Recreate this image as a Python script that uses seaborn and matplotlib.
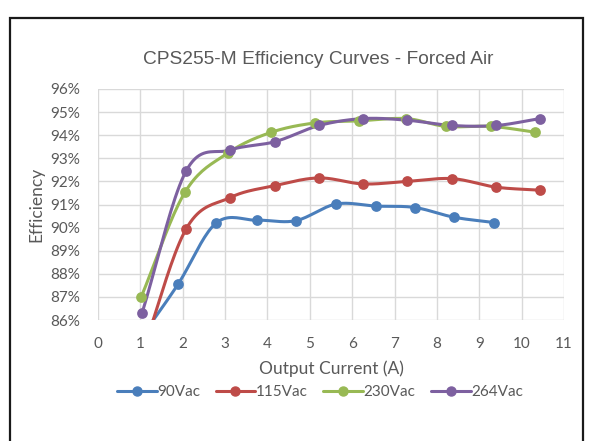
import numpy as np
import pandas as pd
import matplotlib
matplotlib.use("Agg")
import matplotlib.pyplot as plt
import seaborn as sns
from matplotlib.lines import Line2D
from matplotlib.patches import Rectangle

# valori (corrente in A, efficienza in %)
series_names = ["90Vac", "115Vac", "230Vac", "264Vac"]
cur_90 = [1.0, 1.89, 2.79, 3.75, 4.67, 5.62, 6.56, 7.48, 8.40, 9.35]
eff_90 = [85.2, 87.55, 90.2, 90.32, 90.3, 91.02, 90.93, 90.87, 90.45, 90.22]
cur_115 = [1.05, 2.08, 3.12, 4.18, 5.22, 6.26, 7.29, 8.36, 9.40, 10.43]
eff_115 = [84.6, 89.94, 91.3, 91.82, 92.15, 91.89, 92.0, 92.12, 91.75, 91.62]
cur_230 = [1.02, 2.05, 3.07, 4.08, 5.12, 6.16, 7.27, 8.22, 9.28, 10.32]
eff_230 = [87.0, 91.52, 93.23, 94.12, 94.53, 94.62, 94.72, 94.38, 94.38, 94.13]
cur_264 = [1.04, 2.08, 3.12, 4.18, 5.22, 6.26, 7.29, 8.36, 9.40, 10.43]
eff_264 = [86.3, 92.45, 93.36, 93.72, 94.42, 94.72, 94.65, 94.42, 94.42, 94.72]
colori = ["#4a7ebb", "#be4b48", "#98b954", "#7d60a0"]

x_ticks = list(range(0, 12))
y_ticks = list(range(86, 97))


def smooth(x, y, n=20):
    # curva tipo "linea smussata" di Excel (Catmull-Rom) solo per il disegno
    x = np.asarray(x, float)
    y = np.asarray(y, float)
    px = np.concatenate([[2 * x[0] - x[1]], x, [2 * x[-1] - x[-2]]])
    py = np.concatenate([[2 * y[0] - y[1]], y, [2 * y[-1] - y[-2]]])
    xs, ys = [], []
    t = np.linspace(0, 1, n, endpoint=False)
    for i in range(1, len(px) - 2):
        for p, out in ((px, xs), (py, ys)):
            p0, p1, p2, p3 = p[i - 1], p[i], p[i + 1], p[i + 2]
            out.extend(0.5 * (2 * p1 + (-p0 + p2) * t
                              + (2 * p0 - 5 * p1 + 4 * p2 - p3) * t ** 2
                              + (-p0 + 3 * p1 - 3 * p2 + p3) * t ** 3))
    xs.append(x[-1])
    ys.append(y[-1])
    return np.array(xs), np.array(ys)


sns.set_theme(style="white")
plt.rcParams["font.family"] = ["Lato", "DejaVu Sans"]
testo = "#595959"

fig = plt.figure(figsize=(5.9, 4.41), dpi=100)
ax = fig.add_axes([98 / 590, 1 - 320 / 441, 466 / 590, 231 / 441])

dati = [(cur_90, eff_90), (cur_115, eff_115), (cur_230, eff_230), (cur_264, eff_264)]
handles = []
for nome, (xc, yc), col in zip(series_names, dati, colori):
    sx, sy = smooth(xc, yc)
    curva = pd.DataFrame({"I": sx, "eff": sy / 100})
    punti = pd.DataFrame({"I": xc, "eff": np.array(yc) / 100})
    sns.lineplot(data=curva, x="I", y="eff", ax=ax, color=col, lw=2.2,
                 sort=False, estimator=None)
    sns.scatterplot(data=punti, x="I", y="eff", ax=ax, color=col, s=60,
                    edgecolor=col, linewidth=0, zorder=3)
    handles.append(Line2D([0], [0], color=col, lw=2.2, marker="o",
                          markersize=6.5, label=nome))

ax.set_xlim(0, 11)
ax.set_ylim(0.86, 0.96)
ax.set_xticks(x_ticks)
ax.set_yticks([v / 100 for v in y_ticks])
ax.set_yticklabels([f"{v}%" for v in y_ticks])
ax.grid(True, color="#d9d9d9", lw=1)
for s in ax.spines.values():
    s.set_visible(False)
ax.tick_params(length=0, labelsize=11, colors=testo)
ax.tick_params(axis="y", pad=13)
ax.tick_params(axis="x", pad=12)
ax.set_xlabel("Output Current (A)", fontsize=12.5, color=testo, labelpad=7)
ax.set_ylabel("Efficiency", fontsize=12.5, color=testo, labelpad=4)

fig.text(318 / 590, 1 - 60 / 441, "CPS255-M Efficiency Curves - Forced Air",
         ha="center", va="center", fontsize=13.8, color=testo,
         family=["Liberation Sans", "DejaVu Sans"])

fig.legend(handles=handles, loc="center", bbox_to_anchor=(320 / 590, 1 - 392 / 441),
           ncol=4, frameon=False, fontsize=11, labelcolor=testo,
           handlelength=2.6, handletextpad=0.05, columnspacing=1.0)

# cornice esterna
fig.patches.append(Rectangle((10 / 590, -0.05), 573 / 590, 0.05 + 1 - 18 / 441,
                             transform=fig.transFigure, fill=False,
                             edgecolor="#1a1a1a", lw=1.6))

fig.savefig("out.png", dpi=100)
